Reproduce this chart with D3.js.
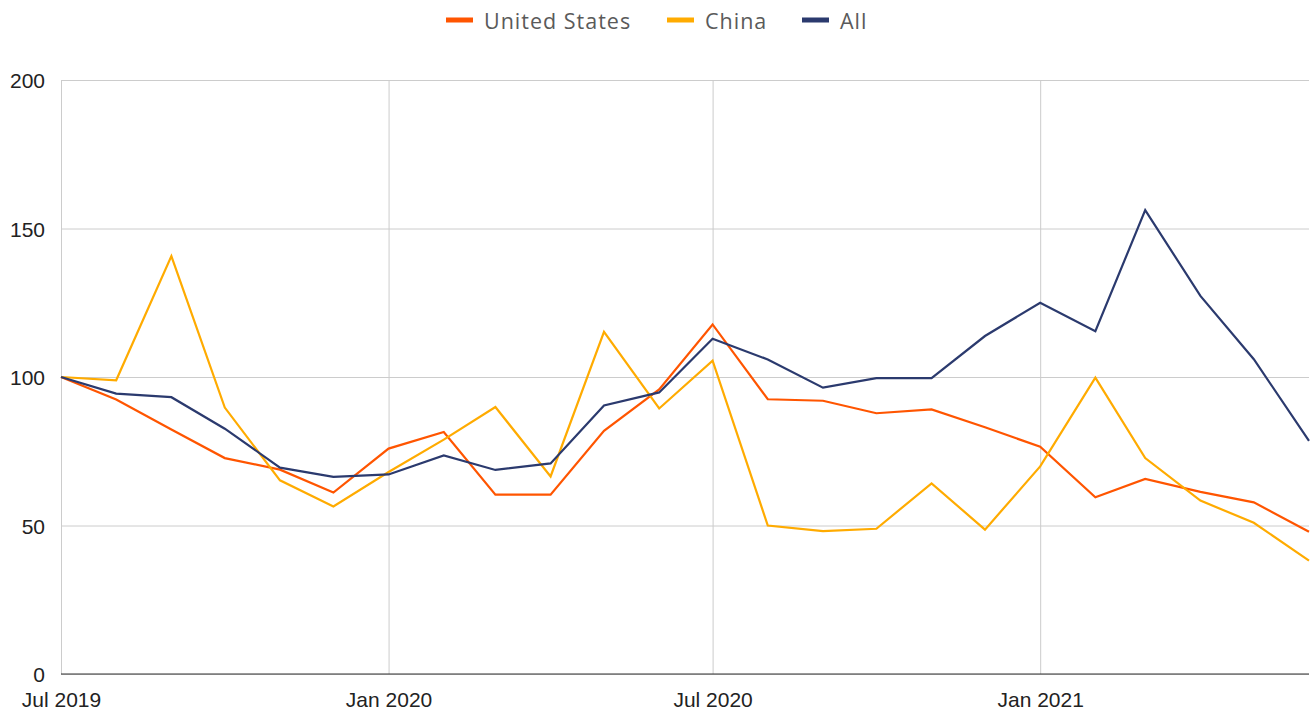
<!DOCTYPE html>
<html>
<head>
<meta charset="utf-8">
<script src="https://cdn.jsdelivr.net/npm/d3@7"></script>
<style>
  body { margin: 0; background: #fff; }
  svg { display: block; }
  .tick text { font-family: Arial, "Liberation Sans", sans-serif; font-size: 21px; fill: #222; }
  .legend text { font-family: "Open Sans", Lato, sans-serif; font-size: 21.5px; fill: #5a5a5a; letter-spacing: 1px; }
</style>
</head>
<body>
<div id="chart"></div>
<script>
// monthly index, Jul 2019 = 100
const months = ["2019-07","2019-08","2019-09","2019-10","2019-11","2019-12",
                "2020-01","2020-02","2020-03","2020-04","2020-05","2020-06",
                "2020-07","2020-08","2020-09","2020-10","2020-11","2020-12",
                "2021-01","2021-02","2021-03","2021-04","2021-05","2021-06"];
const unitedStates = [100, 92.4, 82.3, 72.7, 68.8, 61.1, 75.9, 81.5, 60.4, 60.4, 81.9, 95.8,
                      117.7, 92.5, 92.0, 87.8, 89.1, 83.1, 76.5, 59.5, 65.7, 61.3, 57.8, 47.9];
const china        = [100, 98.9, 140.7, 89.7, 65.2, 56.4, 68.0, 78.9, 89.9, 66.5, 115.2, 89.4,
                      105.5, 50.0, 48.1, 48.9, 64.2, 48.6, 69.9, 99.8, 72.7, 58.4, 50.9, 38.2];
const all          = [100, 94.4, 93.2, 82.6, 69.5, 66.4, 67.2, 73.6, 68.7, 70.9, 90.4, 94.8,
                      112.9, 105.9, 96.4, 99.6, 99.6, 113.8, 125.0, 115.4, 156.2, 127.3, 106.0, 78.5];
const seriesNames = ["United States", "China", "All"];
const seriesColors = ["#ff5500", "#ffab00", "#2b3a6e"];
const yTicks = [0, 50, 100, 150, 200];
const xTicks = ["2019-07", "2020-01", "2020-07", "2021-01"];

const width = 1310, height = 713;
const margin = { top: 80, right: 1, bottom: 39, left: 61 };
const innerWidth = width - margin.left - margin.right;
const innerHeight = height - margin.top - margin.bottom;

const parseMonth = d3.timeParse("%Y-%m");
const dates = months.map(parseMonth);
const series = [unitedStates, china, all].map((vals, i) => ({
  name: seriesNames[i],
  color: seriesColors[i],
  values: vals.map((v, j) => ({ date: dates[j], value: v }))
}));

const x = d3.scaleTime().domain(d3.extent(dates)).range([0, innerWidth]);
const y = d3.scaleLinear().domain([0, 200]).range([innerHeight, 0]);

const svg = d3.select("#chart").append("svg")
    .attr("width", width).attr("height", height);

const frame = svg.append("g").attr("transform", "translate(" + margin.left + "," + margin.top + ")");

// horizontal grid + y labels
const yAxis = d3.axisLeft(y).tickValues(yTicks).tickSize(-innerWidth).tickPadding(16);
frame.append("g").attr("class", "y axis").call(yAxis)
  .call(g => g.select(".domain").remove())
  .call(g => g.selectAll(".tick line").attr("stroke", "#cccccc"))
  .call(g => g.selectAll(".tick text").attr("dy", "0.36em"));

// vertical grid + x labels
const xAxis = d3.axisBottom(x).tickValues(xTicks.map(parseMonth))
    .tickFormat(d3.timeFormat("%b %Y")).tickSize(-innerHeight).tickPadding(18);
frame.append("g").attr("class", "x axis")
  .attr("transform", "translate(0," + innerHeight + ")").call(xAxis)
  .call(g => g.select(".domain").remove())
  .call(g => g.selectAll(".tick line").attr("stroke", "#cccccc"));

// baseline
frame.append("line")
  .attr("x1", 0).attr("x2", innerWidth)
  .attr("y1", y(0)).attr("y2", y(0))
  .attr("stroke", "#333").attr("stroke-width", 1.2);

const line = d3.line().x(d => x(d.date)).y(d => y(d.value));

frame.selectAll("path.series").data(series).join("path")
  .attr("class", "series")
  .attr("fill", "none")
  .attr("stroke", d => d.color)
  .attr("stroke-width", 2.2)
  .attr("stroke-linejoin", "miter")
  .attr("d", d => line(d.values));

// legend
const legendX = [446, 667, 802];
const legend = svg.append("g").attr("class", "legend");
const item = legend.selectAll("g").data(series).join("g")
  .attr("transform", (d, i) => "translate(" + legendX[i] + ",20)");
item.append("rect")
  .attr("x", 0).attr("y", -2.5).attr("width", 27).attr("height", 5)
  .attr("fill", d => d.color);
item.append("text")
  .attr("x", 38).attr("y", 1).attr("dy", "0.35em")
  .text(d => d.name);
</script>
</body>
</html>
